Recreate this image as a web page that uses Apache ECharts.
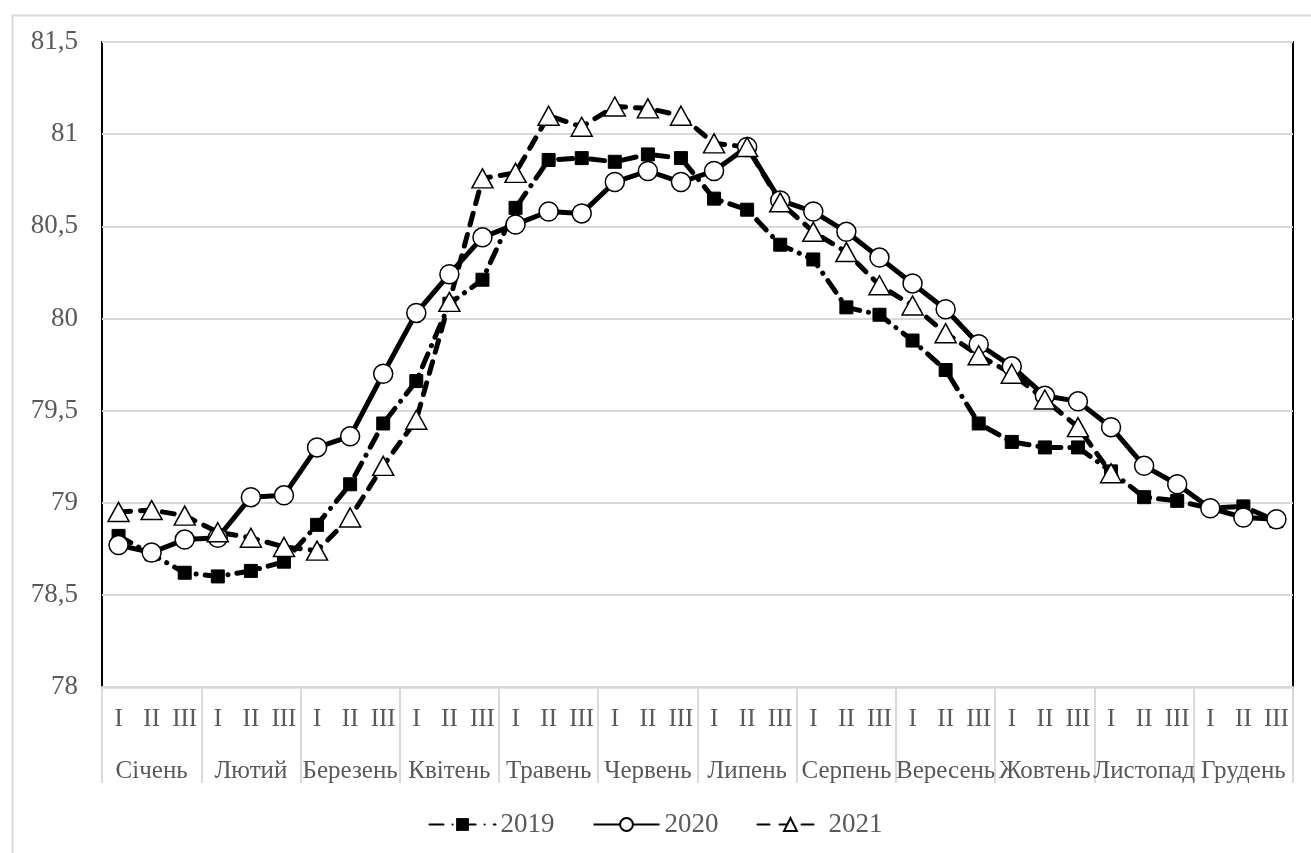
<!DOCTYPE html>
<html>
<head>
<meta charset="utf-8">
<script src="https://cdn.jsdelivr.net/npm/echarts@6/dist/echarts.min.js"></script>
<style>
  html, body { margin: 0; padding: 0; background: #fff; }
  #chart { width: 1311px; height: 853px; }
</style>
</head>
<body>
<div id="chart"></div>
<script>
// декади кожного місяця
const decades = ['I', 'II', 'III'];
const months = ['Січень', 'Лютий', 'Березень', 'Квітень', 'Травень', 'Червень',
  'Липень', 'Серпень', 'Вересень', 'Жовтень', 'Листопад', 'Грудень'];
const categories = months.flatMap(() => decades);

const data2019 = [78.82, 78.72, 78.62, 78.60, 78.63, 78.68, 78.88, 79.10, 79.43, 79.66, 80.08, 80.21,
  80.60, 80.86, 80.87, 80.85, 80.89, 80.87, 80.65, 80.59, 80.40, 80.32, 80.06, 80.02,
  79.88, 79.72, 79.43, 79.33, 79.30, 79.30, 79.17, 79.03, 79.01, 78.97, 78.98, 78.90];
const data2020 = [78.77, 78.73, 78.80, 78.81, 79.03, 79.04, 79.30, 79.36, 79.70, 80.03, 80.24, 80.44,
  80.51, 80.58, 80.57, 80.74, 80.80, 80.74, 80.80, 80.93, 80.64, 80.58, 80.47, 80.33,
  80.19, 80.05, 79.86, 79.74, 79.58, 79.55, 79.41, 79.20, 79.10, 78.97, 78.92, 78.91];
const data2021 = [78.95, 78.96, 78.93, 78.84, 78.81, 78.76, 78.74, 78.92, 79.20, 79.45, 80.09, 80.76,
  80.79, 81.10, 81.04, 81.15, 81.14, 81.10, 80.95, 80.93, 80.63, 80.47, 80.36, 80.18,
  80.07, 79.92, 79.80, 79.70, 79.56, 79.41, 79.16, null, null, null, null, null];

const textColor = '#595959';
const gridColor = '#d9d9d9';
const font = '"Liberation Serif", "DejaVu Serif", serif';

const chart = echarts.init(document.getElementById('chart'));

chart.setOption({
  animation: false,
  textStyle: { fontFamily: font },
  graphic: [{
    type: 'rect',
    left: 10, top: 13,
    shape: { width: 1400, height: 900 },
    style: { fill: 'none', stroke: gridColor, lineWidth: 2 },
    silent: true,
  }],
  grid: {
    left: 102, right: 18, top: 42, bottom: 166,
    show: true,
    borderColor: '#000',
    borderWidth: 2,
  },
  legend: {
    top: 806,
    left: 'center',
    itemWidth: 66,
    itemHeight: 16,
    itemGap: 38,
    textStyle: { fontFamily: font, fontSize: 27, color: textColor },
    data: ['2019', '2020', '2021'],
  },
  xAxis: [
    {
      type: 'category',
      data: categories,
      boundaryGap: true,
      axisLine: { show: true, lineStyle: { color: gridColor, width: 2.5 } },
      axisTick: {
        show: true,
        interval: (i) => i % 3 === 0,
        length: 96,
        lineStyle: { color: gridColor, width: 2 },
      },
      axisLabel: {
        interval: 0,
        margin: 20,
        fontFamily: font,
        fontSize: 25,
        color: textColor,
      },
    },
    {
      type: 'category',
      data: months,
      position: 'bottom',
      offset: 52,
      boundaryGap: true,
      axisLine: { show: false },
      axisTick: { show: false },
      axisLabel: {
        interval: 0,
        margin: 20,
        fontFamily: font,
        fontSize: 25,
        color: textColor,
      },
    },
  ],
  yAxis: {
    type: 'value',
    min: 78,
    max: 81.5,
    interval: 0.5,
    axisLine: { show: false },
    axisTick: { show: false },
    splitLine: { lineStyle: { color: gridColor, width: 2 } },
    axisLabel: {
      margin: 24,
      fontFamily: font,
      fontSize: 27,
      color: textColor,
      formatter: (v) => String(v).replace('.', ','),
    },
  },
  series: [
    {
      name: '2019',
      type: 'line',
      data: data2019,
      symbol: 'rect',
      symbolSize: 13,
      itemStyle: { color: '#000', borderColor: '#000' },
      lineStyle: { color: '#000', width: 5, type: [14, 9, 0.1, 9], cap: 'round' },
    },
    {
      name: '2020',
      type: 'line',
      data: data2020,
      symbol: 'circle',
      symbolSize: 19,
      itemStyle: { color: '#fff', borderColor: '#000', borderWidth: 1.5 },
      lineStyle: { color: '#000', width: 5, type: 'solid' },
    },
    {
      name: '2021',
      type: 'line',
      data: data2021,
      symbol: 'triangle',
      symbolSize: [21, 19],
      itemStyle: { color: '#fff', borderColor: '#000', borderWidth: 1.5 },
      lineStyle: { color: '#000', width: 5, type: [12, 10], cap: 'round' },
    },
  ],
});
</script>
</body>
</html>
